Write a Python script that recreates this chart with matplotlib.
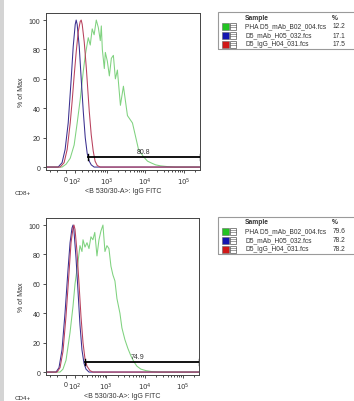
import numpy as np
import matplotlib
matplotlib.use("Agg")
import matplotlib.pyplot as plt
from matplotlib.patches import Rectangle
from matplotlib.lines import Line2D

plt.rcParams['font.family'] = ['Liberation Sans', 'DejaVu Sans']

# ---- data (fluorescence intensity vs % of max) ----
cd8_green_x = [-272, -44, 0, 44, 89, 127, 169, 217, 252, 312, 357, 406, 460, 527, 598, 677, 721, 767,
               866, 921, 1040, 1175, 1326, 1496, 1687, 1904, 2281, 2729, 3078, 3472, 4153, 4680,
               5610, 6710, 8030, 9050, 11500, 13800, 18600, 25100, 38100, 61500, 262144]
cd8_green_y = [0, 0, 2, 6, 15, 30, 46, 65, 76, 88, 83, 94, 90, 100, 95, 86, 96, 80,
               67, 78, 72, 62, 74, 76, 60, 66, 42, 55, 45, 35, 32, 30,
               21, 12, 9, 7, 4, 3, 1.5, 0.8, 0.3, 0, 0]
cd8_blue_x = [-272, -89, -44, -11, 22, 55, 78, 102, 114, 127, 155, 184, 217, 252, 291, 334, 381, 460, 262144]
cd8_blue_y = [0, 0, 3, 12, 30, 60, 82, 97, 100, 97, 82, 60, 38, 20, 9, 4, 1.5, 0, 0]
cd8_red_x = [-272, -66, -22, 11, 44, 66, 89, 114, 141, 169, 184, 200, 234, 271, 291, 334, 381, 433,
             489, 562, 677, 262144]
cd8_red_y = [0, 0, 3, 12, 30, 45, 62, 78, 92, 99, 100, 97, 85, 68, 58, 38, 22, 11,
             4, 1, 0, 0]

cd4_green_x = [-272, -66, -33, 0, 44, 78, 102, 141, 169, 200, 217, 252, 291, 334, 381, 433, 489, 562,
               637, 721, 815, 921, 1040, 1175, 1326, 1496, 1687, 1904, 2281, 2571, 3078, 3686,
               4410, 5280, 6320, 8030, 10800, 15500, 25100, 262144]
cd4_green_y = [0, 0, 2, 8, 27, 45, 60, 75, 86, 82, 90, 85, 88, 84, 92, 90, 95, 79,
               90, 96, 100, 82, 86, 84, 72, 66, 62, 50, 40, 30, 22, 16,
               11, 7, 4, 2, 1, 0.3, 0, 0]
cd4_blue_x = [-272, -114, -78, -44, -11, 22, 44, 66, 78, 89, 114, 141, 169, 200, 234, 271, 334, 262144]
cd4_blue_y = [0, 0, 3, 15, 40, 70, 88, 98, 100, 96, 78, 55, 32, 15, 6, 2, 0, 0]
cd4_red_x = [-272, -102, -66, -33, 0, 33, 55, 78, 89, 102, 127, 155, 184, 217, 252, 291, 357, 433, 262144]
cd4_red_y = [0, 0, 3, 14, 38, 68, 88, 98, 100, 97, 82, 60, 38, 20, 9, 4, 1, 0, 0]

samples = ['PHA D5_mAb_B02_004.fcs', 'D5_mAb_H05_032.fcs', 'D5_IgG_H04_031.fcs']
cd8_pct = ['12.2', '17.1', '17.5']
cd4_pct = ['79.6', '78.2', '78.2']
cd8_gate = [312, 262144, 7, '80.8', 9050]
cd4_gate = [252, 262144, 7, '74.9', 6700]

line_colors = ['#7fd27f', '#3a2f8f', '#b8405c']
swatch_colors = ['#22c322', '#1515b0', '#d01818']

W, H = 354, 402


def fwd(x):
    return np.arcsinh(np.asarray(x, dtype=float) / 180.0)


def inv(u):
    return 180.0 * np.sinh(u)


def draw_panel(rect, curves, gate):
    ax = fig.add_axes(rect)
    ax.set_xscale('function', functions=(fwd, inv))
    for (xs, ys), c in zip(curves, line_colors):
        ax.plot(xs, ys, color=c, lw=0.75)
    x0, x1, gy, lab, lx = gate
    ax.plot([x0, x1], [gy, gy], color='black', lw=1.3)
    ax.plot([x0, x0], [gy - 2, gy + 2], color='black', lw=1.0)
    ax.plot([x1, x1], [gy - 2, gy + 2], color='black', lw=1.0)
    ax.text(lx, gy + 1.5, lab, fontsize=5, ha='center', va='bottom', color='#333333')
    ax.set_xlim(-272, 262144)
    ax.set_ylim(-2.0, 104.8)
    ax.set_xticks([0, 100, 1000, 10000, 100000])
    ax.set_xticklabels(['0', r'$10^2$', r'$10^3$', r'$10^4$', r'$10^5$'])
    minors = [-200, -100] + [m * d for d in (100, 1000, 10000) for m in range(2, 10)] + [200000]
    ax.set_xticks(minors, minor=True)
    ax.set_yticks([0, 20, 40, 60, 80, 100])
    ax.tick_params(axis='both', labelsize=5, length=2.5, width=0.6, pad=1.5, colors='#333333')
    ax.tick_params(axis='x', which='minor', length=1.5, width=0.5)
    for s in ax.spines.values():
        s.set_linewidth(0.7)
        s.set_color('#444444')
    ax.set_ylabel('% of Max', fontsize=5, labelpad=3, color='#333333')
    ax.set_xlabel('<B 530/30-A>: IgG FITC', fontsize=5, labelpad=0, color='#333333')
    return ax


def draw_legend(top, pcts):
    tf = fig.transFigure

    def fx(px):
        return px / W

    def fy(py):
        return 1 - py / H

    fig.patches.append(Rectangle((fx(218), fy(top + 37)), fx(150), 37 / H, transform=tf,
                                 fill=False, edgecolor='#9a9a9a', lw=0.8))
    fig.text(fx(245), fy(top + 5), 'Sample', fontsize=4.8, fontweight='bold', va='center', color='#333333')
    fig.text(fx(332), fy(top + 5), '%', fontsize=4.8, fontweight='bold', va='center', color='#333333')
    for i, (s, p) in enumerate(zip(samples, pcts)):
        yc = top + 14 + 9 * i
        fig.patches.append(Rectangle((fx(222), fy(yc + 3.5)), fx(7), 7 / H, transform=tf,
                                     facecolor=swatch_colors[i], edgecolor='#666666', lw=0.4))
        fig.patches.append(Rectangle((fx(229.5), fy(yc + 3.5)), fx(6.5), 7 / H, transform=tf,
                                     facecolor='white', edgecolor='#555555', lw=0.5))
        for dy in (-1.2, 1.2):
            fig.lines.append(Line2D([fx(229.5), fx(236)], [fy(yc + dy), fy(yc + dy)],
                                    transform=tf, color='#555555', lw=0.4))
        fig.text(fx(245), fy(yc), s, fontsize=4.8, va='center', color='#333333')
        fig.text(fx(333), fy(yc), p, fontsize=4.8, va='center', color='#333333')


fig = plt.figure(figsize=(W / 100, H / 100), dpi=100)
fig.patches.append(Rectangle((0, 0), 4 / W, 1, transform=fig.transFigure,
                             facecolor='#d4d4d4', edgecolor='none'))

draw_panel([46 / W, 1 - 171 / H, 154 / W, 157 / H],
           [(cd8_green_x, cd8_green_y), (cd8_blue_x, cd8_blue_y), (cd8_red_x, cd8_red_y)],
           cd8_gate)
draw_panel([46 / W, 1 - 376 / H, 153 / W, 157 / H],
           [(cd4_green_x, cd4_green_y), (cd4_blue_x, cd4_blue_y), (cd4_red_x, cd4_red_y)],
           cd4_gate)

fig.text(15 / W, 1 - 194 / H, 'CD8+', fontsize=4.5, va='center', color='#333333')
fig.text(15 / W, 1 - 399 / H, 'CD4+', fontsize=4.5, va='center', color='#333333')

draw_legend(13, cd8_pct)
draw_legend(218, cd4_pct)

fig.savefig('out.png', dpi=100)
